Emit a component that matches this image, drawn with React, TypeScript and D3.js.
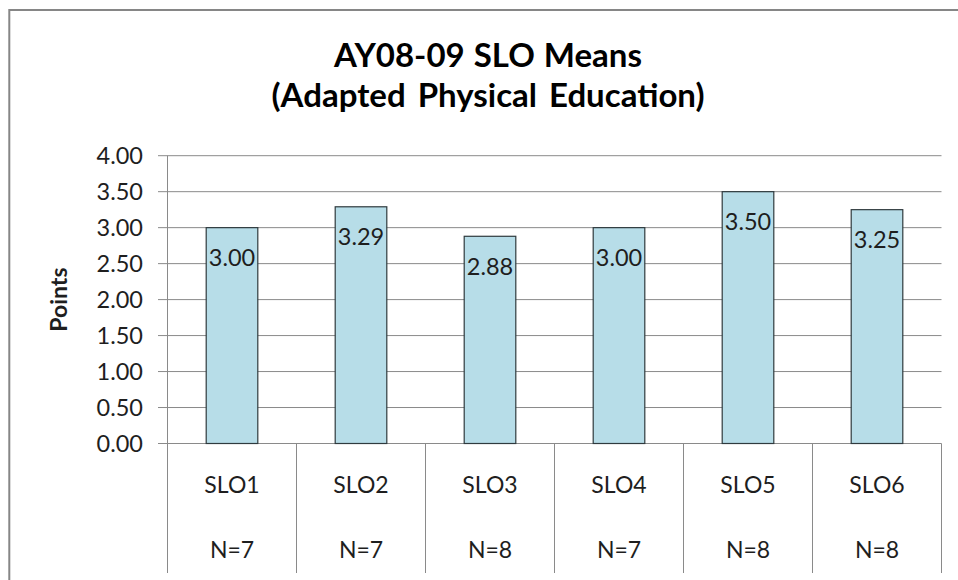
import React from "react";
import * as d3 from "d3";

const categories = ["SLO1", "SLO2", "SLO3", "SLO4", "SLO5", "SLO6"];
const sampleSizes = ["N=7", "N=7", "N=8", "N=7", "N=8", "N=8"];
const means = [3.0, 3.29, 2.88, 3.0, 3.5, 3.25];
const yTicks = [0, 0.5, 1, 1.5, 2, 2.5, 3, 3.5, 4];
const titleLines = ["AY08-09 SLO Means", "(Adapted Physical Education)"];
const yAxisTitle = "Points";

const W = 958;
const H = 580;
const FONT = "Lato, 'Open Sans', sans-serif";

export default function App() {
  const plotLeft = 167.5;
  const plotRight = 941.5;
  const plotTop = 155.7;
  const plotBottom = 443.5;
  const tableBottom = 573;

  const x = d3.scaleBand<string>().domain(categories).range([plotLeft, plotRight]).padding(0);
  const y = d3.scaleLinear().domain([0, 4]).range([plotBottom, plotTop]);
  const barW = x.bandwidth() / 2.5;
  const grid = "#8a8a8a";
  const txt = "#1e1e1e";

  return (
    <svg
      width={W}
      height={H}
      style={{ position: "absolute", left: 0, top: 0, background: "#fff" }}
      fontFamily={FONT}
    >
      <rect x={0} y={0} width={W} height={H} fill="#fff" />
      <rect x={9.3} y={10} width={W + 20} height={H + 20} fill="none" stroke="#868686" strokeWidth={2} />

      {/* title */}
      {titleLines.map((t, i) => (
        <text
          key={t}
          x={488}
          y={67 + i * 40}
          textAnchor="middle"
          fontWeight="bold"
          fontSize={33}
          wordSpacing={i === 1 ? 4 : 1}
          fill="#000"
        >
          {t}
        </text>
      ))}

      {/* y axis title */}
      <text
        transform={`translate(67,${(plotTop + plotBottom) / 2}) rotate(-90)`}
        textAnchor="middle"
        fontWeight="bold"
        fontSize={23}
        fill={txt}
      >
        {yAxisTitle}
      </text>

      {/* gridlines + ticks */}
      {yTicks.map((t) => (
        <g key={t}>
          <line x1={158} x2={plotRight} y1={y(t)} y2={y(t)} stroke={grid} strokeWidth={1} />
          <text
            x={143}
            y={y(t)}
            dy="0.36em"
            textAnchor="end"
            fontSize={23.5}
            fill={txt}
          >
            {t.toFixed(2)}
          </text>
        </g>
      ))}

      {/* vertical axis and table lines */}
      <line x1={plotLeft} x2={plotLeft} y1={plotTop} y2={tableBottom} stroke={grid} strokeWidth={1} />
      {categories.map((c) => (
        <line
          key={c}
          x1={(x(c) as number) + x.bandwidth()}
          x2={(x(c) as number) + x.bandwidth()}
          y1={plotBottom}
          y2={tableBottom}
          stroke={grid}
          strokeWidth={1}
        />
      ))}

      {/* bars */}
      {categories.map((c, i) => {
        const cx = (x(c) as number) + x.bandwidth() / 2;
        return (
          <g key={c}>
            <rect
              x={cx - barW / 2}
              y={y(means[i])}
              width={barW}
              height={y(0) - y(means[i])}
              fill="#b7dde8"
              stroke="#2f3a3e"
              strokeWidth={1.2}
            />
            <text
              x={cx}
              y={y(means[i]) + 30}
              dy="0.36em"
              textAnchor="middle"
              fontSize={23.5}
              fill={txt}
            >
              {means[i].toFixed(2)}
            </text>
          </g>
        );
      })}

      {/* category labels */}
      {categories.map((c, i) => {
        const cx = (x(c) as number) + x.bandwidth() / 2;
        return (
          <g key={c}>
            <text x={cx} y={485} dy="0.36em" textAnchor="middle" fontSize={23} fill={txt}>
              {c}
            </text>
            <text x={cx} y={550} dy="0.36em" textAnchor="middle" fontSize={23} fill={txt}>
              {sampleSizes[i]}
            </text>
          </g>
        );
      })}
    </svg>
  );
}
